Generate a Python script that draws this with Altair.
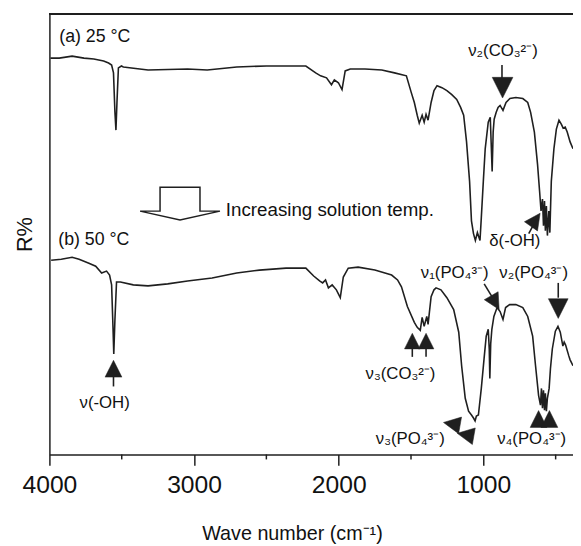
import altair as alt
import pandas as pd

# ---- spectrum (a) 25 °C : wavenumber (cm-1) and R% (arbitrary units)
wn_a = [3993, 3932, 3843, 3761, 3693, 3625, 3591, 3570, 3557, 3547, 3540, 3533, 3523, 3502, 3489,
        3318, 3045, 2909, 2705, 2500, 2227, 2159, 2125, 2084, 2050, 2030, 2002, 1977, 1955, 1920,
        1818, 1702, 1614, 1532, 1498, 1477, 1457, 1443, 1423, 1409, 1396, 1382, 1361, 1341, 1320,
        1286, 1252, 1218, 1184, 1157, 1136, 1116, 1095, 1082, 1068, 1055, 1041, 1023, 1014, 1000,
        987, 966, 952, 946, 939, 932, 925, 911, 898, 884, 864, 843, 816, 775, 727, 693, 673, 647,
        625, 611, 601, 591, 584, 577, 571, 564, 557, 547, 540, 530, 512, 495, 477, 461, 448, 434,
        420, 400, 380]
r_a = [402, 402, 404, 402, 401, 399, 397, 395, 387, 347, 329, 357, 392, 394, 393,
       390, 391, 390, 393, 394, 394, 387, 384, 382, 375, 380, 377, 370, 389, 391,
       391, 390, 387, 384, 367, 357, 344, 336, 344, 337, 345, 339, 357, 369, 374,
       372, 369, 365, 360, 352, 344, 317, 277, 237, 224, 217, 225, 217, 240, 277,
       310, 337, 342, 317, 287, 327, 340, 347, 352, 354, 349, 357, 361, 362, 361, 357, 347, 327,
       294, 267, 247, 259, 232, 257, 227, 252, 222, 247, 225, 277, 310, 330, 339, 335, 331, 332,
       327, 317, 310]

# ---- spectrum (b) 50 °C
wn_b = [3988, 3918, 3843, 3795, 3727, 3680, 3639, 3605, 3584, 3570, 3560, 3555, 3547, 3536, 3509,
        3420, 3318, 3182, 3045, 2875, 2705, 2548, 2364, 2227, 2173, 2132, 2111, 2091, 2071, 2045,
        2016, 1989, 1968, 1934, 1866, 1750, 1634, 1593, 1566, 1525, 1477, 1457, 1436, 1423, 1409,
        1391, 1382, 1361, 1341, 1327, 1293, 1252, 1205, 1170, 1150, 1125, 1102, 1082, 1068, 1057,
        1048, 1034, 1014, 995, 980, 966, 959, 955, 949, 941, 927, 905, 884, 864, 846, 818, 775,
        727, 693, 659, 639, 618, 605, 598, 591, 584, 577, 571, 564, 557, 545, 536, 523, 502, 484,
        468, 450, 441, 431, 409, 400, 380]
r_b = [197, 198, 200, 198, 194, 191, 184, 186, 182, 172, 127, 102, 137, 175, 175,
       172, 171, 173, 176, 179, 184, 187, 189, 189, 181, 176, 174, 177, 169, 172,
       167, 159, 180, 189, 190, 187, 182, 177, 170, 150, 134, 129, 126, 139, 130,
       140, 132, 160, 167, 169, 167, 159, 147, 124, 90, 57, 44, 40, 37, 34,
       39, 40, 67, 97, 120, 127, 107, 77, 112, 127, 140, 149, 145, 137, 149, 152, 152,
       149, 140, 120, 90, 60, 50, 67, 47, 65, 45, 62, 44, 57, 67, 87, 107, 125, 130,
       124, 110, 114, 111, 100, 96, 90]

major_ticks = [4000, 3000, 2000, 1000]
minor_ticks = [3500, 2500, 1500, 500]

# ---- annotation labels
left_text = ["(a) 25 °C", "(b) 50 °C", "Increasing solution temp."]
left_wn = [3932, 3939, 2780]
left_r = [423, 217, 248]
left_fs = [18, 18, 19]

band_text = ["ν₂(CO₃²⁻)", "δ(-OH)", "ν₁(PO₄³⁻)", "ν₂(PO₄³⁻)", "ν₃(CO₃²⁻)",
             "ν(-OH)", "ν₃(PO₄³⁻)", "ν₄(PO₄³⁻)"]
band_wn = [864, 782, 1198, 652, 1573, 3618, 1505, 666]
band_r = [409, 216, 184, 184, 82, 52, 16, 16]

# arrow stems
stem_wn = [871, 686, 994, 482, 1491, 1396, 3557]
stem_wn2 = [871, 646, 932, 482, 1491, 1396, 3557]
stem_r = [395, 224, 173, 174, 108, 108, 80]
stem_r2 = [380, 235, 158, 159, 99, 99, 69]

# arrow heads
head_wn = [867, 639, 918, 482, 1491, 1396, 3557, 1218, 1123, 618, 543]
head_r = [372, 238, 154, 148, 115, 115, 87, 31, 20, 36, 36]
head_angle = [180, 35, 150, 180, 0, 0, 0, 280, 280, 0, 0]
head_size = [440, 260, 260, 400, 250, 250, 290, 290, 290, 290, 290]

# hollow block arrow
hollow_wn = [3097]
hollow_r = [254.5]

assert len(wn_a) == len(r_a) and len(wn_b) == len(r_b)

spec = pd.DataFrame({
    "wn": wn_a + wn_b,
    "r": r_a + r_b,
    "series": ["a"] * len(wn_a) + ["b"] * len(wn_b),
})
left_df = pd.DataFrame({"wn": left_wn, "r": left_r, "text": left_text, "fs": left_fs})
band_df = pd.DataFrame({"wn": band_wn, "r": band_r, "text": band_text})
stem_df = pd.DataFrame({"wn": stem_wn, "wn2": stem_wn2, "r": stem_r, "r2": stem_r2})
head_df = pd.DataFrame({"wn": head_wn, "r": head_r, "angle": head_angle, "size": head_size})
hollow_df = pd.DataFrame({"wn": hollow_wn, "r": hollow_r})
minor_df = pd.DataFrame({"wn": minor_ticks})

INK = "#1f1f1f"
FONT = "Liberation Sans"
W, H = 531, 447

X = alt.X("wn:Q",
          scale=alt.Scale(domain=[4000, 380], nice=False, zero=False),
          axis=alt.Axis(values=major_ticks, format="d", title="Wave number (cm⁻¹)",
                        grid=False, tickSize=11, tickWidth=1.5, tickColor=INK,
                        domainColor=INK, domainWidth=1.5, labelFont=FONT,
                        labelFontSize=25, labelColor="#111", labelPadding=8,
                        labelFlush=False, titleFont=FONT, titleFontSize=20,
                        titleFontWeight="normal", titleColor="#111",
                        titleX=246, titleY=86, titleBaseline="alphabetic"))
Y = alt.Y("r:Q",
          scale=alt.Scale(domain=[0, H], nice=False, zero=False),
          axis=alt.Axis(title="R%", labels=False, ticks=False, grid=False,
                        domainColor=INK, domainWidth=1.5, titleFont=FONT,
                        titleFontSize=22, titleFontWeight="normal",
                        titleColor="#111", titlePadding=13))

lines = alt.Chart(spec).mark_line(strokeWidth=1.6, color=INK).encode(
    x=X, y=Y, detail="series:N")

top_rule = alt.Chart(spec).mark_rule(color=INK, strokeWidth=1.5).encode(
    x=alt.value(0), x2=alt.value(W), y=alt.value(0))

minor = alt.Chart(minor_df).mark_rule(color=INK, strokeWidth=1.5).encode(
    x=X, y=alt.value(H), y2=alt.value(H + 5))

left_labels = alt.Chart(left_df).mark_text(
    font=FONT, align="left", baseline="middle", color="#111").encode(
    x=X, y=Y, text="text:N", size=alt.Size("fs:Q", scale=None, legend=None))

band_labels = alt.Chart(band_df).mark_text(
    font=FONT, fontSize=17, align="center", baseline="middle", color="#111").encode(
    x=X, y=Y, text="text:N")

stems = alt.Chart(stem_df).mark_rule(color=INK, strokeWidth=1.6).encode(
    x=X, x2="wn2:Q", y=Y, y2="r2:Q")

TRI = "M0,-1L1,1L-1,1Z"
heads = alt.Chart(head_df).mark_point(
    shape=TRI, filled=True, fill=INK, stroke=INK, strokeWidth=0.5, opacity=1).encode(
    x=X, y=Y,
    angle=alt.Angle("angle:Q", scale=None),
    size=alt.Size("size:Q", scale=None, legend=None))

HOLLOW = "M-0.5,-0.41L0.5,-0.41L0.5,0.19L1,0.19L0,0.41L-1,0.19L-0.5,0.19Z"
hollow = alt.Chart(hollow_df).mark_point(
    shape=HOLLOW, filled=True, fill="white", stroke=INK, strokeWidth=1.5,
    opacity=1, size=6561).encode(x=X, y=Y)

chart = alt.layer(lines, top_rule, minor, stems, heads, hollow, left_labels, band_labels).properties(
    width=W, height=H,
    padding={"left": 42, "top": 2, "right": 0, "bottom": 89},
    autosize=alt.AutoSizeParams(type="none"),
    background="white",
).configure_view(stroke=None)

chart.save("out.html", embed_options={"renderer": "svg", "actions": False})
